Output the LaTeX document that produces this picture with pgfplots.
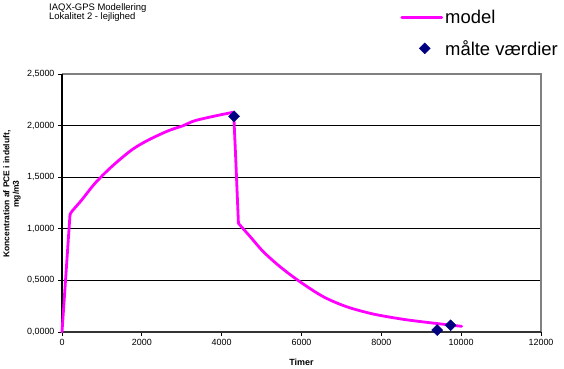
\documentclass[border=0pt]{standalone}
\usepackage{pgfplots}
\pgfplotsset{compat=1.18}
\usepackage{fontspec}
\setmainfont{Liberation Sans}
\definecolor{magentaline}{RGB}{255,0,255}
\definecolor{navymark}{RGB}{0,0,128}
\definecolor{framegray}{RGB}{128,128,128}
\pgfplotsset{
  lineleg/.style={legend image code/.code={\draw[##1] (0bp,0bp) -- (40bp,0bp);}},
  markleg/.style={legend image code/.code={\draw[##1, mark repeat=2, mark phase=2] plot coordinates {(0bp,0bp) (23bp,0bp) (46bp,0bp)};}},
  modelstyle/.style={magentaline, line width=2.8bp, no marks, line cap=round, line join=round},
}
\begin{document}
\begin{tikzpicture}[x=1bp,y=1bp]
\useasboundingbox (0,0) rectangle (564,368);
\node[anchor=base west, font=\fontsize{9.5}{10}\selectfont, inner sep=0] at (49,357.5) {IAQX-GPS Modellering};
\node[anchor=base west, font=\fontsize{9.5}{10}\selectfont, inner sep=0] at (49,348.5) {Lokalitet 2 - lejlighed};
\node[rotate=90, align=center, font=\bfseries\fontsize{8.5}{9.5}\selectfont, inner sep=0] at (12,174) {Koncentration af PCE i indeluft,\\mg/m3};
\begin{axis}[
  at={(62bp,36bp)}, anchor=south west,
  scale only axis, width=479bp, height=258bp,
  xmin=0, xmax=12000, ymin=0, ymax=2.5,
  xtick={0,2000,...,12000}, ytick={0,0.5,...,2.5},
  scaled x ticks=false, scaled y ticks=false,
  axis line style={draw=none},
  tick align=outside, xtick pos=bottom, ytick pos=left,
  major tick length=4bp,
  tick style={black, line width=0.8bp},
  ymajorgrids, grid style={black, line width=0.8bp},
  /pgf/number format/assume math mode=true,
  xticklabel style={font=\fontsize{9}{10}\selectfont, /pgf/number format/1000 sep={}},
  yticklabel style={font=\fontsize{9}{10}\selectfont, /pgf/number format/.cd, fixed, fixed zerofill, precision=4, use comma, 1000 sep={}},
  xlabel={Timer}, xlabel style={font=\bfseries\fontsize{9}{10}\selectfont, yshift=-6bp},
  legend style={at={(0.706,1.255)}, anchor=north west, draw=none, fill=none,
    font=\fontsize{18.5}{21}\selectfont, row sep=11bp, inner sep=0pt,
    /tikz/every even column/.append style={column sep=4bp}},
  legend cell align=left,
  clip=false,
]
\draw[framegray, line width=2bp] (rel axis cs:0,1) -- (rel axis cs:1,1) -- (rel axis cs:1,0);
\draw[black, line width=1.5bp] (rel axis cs:0,0) -- (rel axis cs:0,1);
\draw[black!80, line width=1.2bp] (rel axis cs:0,0) -- (rel axis cs:1,0);
% ramp
\addplot[modelstyle, lineleg] coordinates {(0,0) (200,1.134)};
\addlegendentry{model}
% rise
\addplot[modelstyle, smooth, tension=0.5, forget plot] coordinates {
  (200,1.134) (242,1.166) (493,1.279) (827,1.441) (1244,1.602) (1745,1.764)
  (2162,1.86) (2663,1.95) (3040,2.0) (3332,2.048) (3916,2.10) (4300,2.13)
  };
% drop
\addplot[modelstyle, forget plot] coordinates {(4300,2.13) (4350,1.70) (4420,1.053)};
% decay
\addplot[modelstyle, smooth, tension=0.5, forget plot] coordinates {
  (4420,1.053) (4750,0.908) (5043,0.778)
  (5461,0.633) (5962,0.487) (6546,0.342) (7130,0.245) (7799,0.174) (8550,0.123)
  (9218,0.09) (10012,0.055)
  };
\addplot[only marks, mark=square*, mark size=3.9bp, navymark, mark options={fill=navymark, rotate=45}, markleg]
  coordinates {(4310,2.09) (9400,0.019) (9736,0.065)};
\addlegendentry{målte værdier}
\end{axis}
\end{tikzpicture}
\end{document}
